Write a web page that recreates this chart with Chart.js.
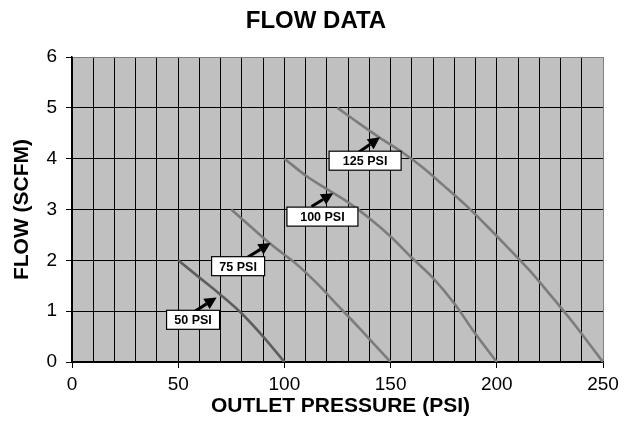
<!DOCTYPE html>
<html>
<head>
<meta charset="utf-8">
<script src="https://cdn.jsdelivr.net/npm/chart.js@4.4.1/dist/chart.umd.min.js"></script>
<style>
  html, body { margin: 0; padding: 0; background: #fff; }
  #wrap { width: 629px; height: 440px; }
</style>
</head>
<body>
<div id="wrap"><canvas id="myChart" width="629" height="440"></canvas></div>
<script>
// curve data (outlet pressure psi -> flow scfm)
const psi50X = [50, 60, 70, 80, 90, 100];
const psi50Y = [2, 1.66, 1.32, 0.95, 0.5, 0];
const psi75X = [75, 85, 95, 105, 115, 125, 135, 142, 150];
const psi75Y = [3, 2.63, 2.27, 1.95, 1.56, 1.12, 0.68, 0.36, 0];
const psi100X = [100, 110, 120, 130, 140, 150, 160, 170, 180, 190, 200];
const psi100Y = [4, 3.67, 3.4, 3.14, 2.83, 2.47, 2.05, 1.65, 1.15, 0.55, 0];
const psi125X = [125, 135, 145, 155, 165, 175, 185, 195, 205, 215, 225, 235, 250];
const psi125Y = [5, 4.7, 4.41, 4.14, 3.83, 3.47, 3.1, 2.69, 2.26, 1.82, 1.33, 0.82, 0];

const seriesNames = ['50 PSI', '75 PSI', '100 PSI', '125 PSI'];
const xTickLabels = [0, 50, 100, 150, 200, 250];
const yTickLabels = [0, 1, 2, 3, 4, 5, 6];

// callout labels: box centre and arrow (from -> tip) in data units
const calloutX = [57, 78.2, 117.9, 138];
const calloutY = [0.83, 1.885, 2.86, 3.96];
const arrowFromX = [57.9, 82.7, 112.8, 134.8];
const arrowFromY = [1.0, 2.06, 3.06, 4.12];
const arrowTipX = [68.1, 93.5, 123, 145];
const arrowTipY = [1.27, 2.34, 3.32, 4.42];

const FONT = '"Liberation Sans", Arial, Helvetica, sans-serif';
const lineColors = ['#5e5e5e', '#7c7c7c', '#7c7c7c', '#7c7c7c'];
const boxW = [53, 53, 71, 72];

function pts(xs, ys) { return xs.map((x, i) => ({ x: x, y: ys[i] })); }

var allX = [psi50X, psi75X, psi100X, psi125X];
var allY = [psi50Y, psi75Y, psi100Y, psi125Y];
var datasets = seriesNames.map((name, i) => ({
  label: name,
  data: pts(allX[i], allY[i]),
  borderColor: lineColors[i],
  borderWidth: 2.6,
  pointRadius: 0,
  fill: false,
  cubicInterpolationMode: 'monotone'
}));

// grey plot background
var plotBg = {
  id: 'plotBg',
  beforeDraw(chart) {
    var a = chart.chartArea, c = chart.ctx;
    c.save();
    c.fillStyle = '#c0c0c0';
    c.fillRect(a.left, a.top, a.right - a.left, a.bottom - a.top);
    c.restore();
  }
};

// titles and callouts
var extras = {
  id: 'extras',
  afterDatasetsDraw(chart) {
    var c = chart.ctx, xs = chart.scales.x, ys = chart.scales.y;
    c.save();
    for (var i = 0; i < seriesNames.length; i++) {
      var fx = xs.getPixelForValue(arrowFromX[i]), fy = ys.getPixelForValue(arrowFromY[i]);
      var tx = xs.getPixelForValue(arrowTipX[i]), ty = ys.getPixelForValue(arrowTipY[i]);
      var ang = Math.atan2(ty - fy, tx - fx);
      var hl = 12, hw = 6;
      var bx = tx - hl * Math.cos(ang), by = ty - hl * Math.sin(ang);
      c.strokeStyle = '#000';
      c.lineWidth = 3;
      c.beginPath(); c.moveTo(fx, fy); c.lineTo(bx, by); c.stroke();
      c.fillStyle = '#000';
      c.beginPath();
      c.moveTo(tx, ty);
      c.lineTo(bx + hw * Math.sin(ang), by - hw * Math.cos(ang));
      c.lineTo(bx - hw * Math.sin(ang), by + hw * Math.cos(ang));
      c.closePath(); c.fill();

      var cx = xs.getPixelForValue(calloutX[i]), cy = ys.getPixelForValue(calloutY[i]);
      var w = boxW[i], h = 19;
      c.fillStyle = '#fff';
      c.fillRect(cx - w / 2, cy - h / 2, w, h);
      c.lineWidth = 1.2;
      c.strokeStyle = '#000';
      c.strokeRect(cx - w / 2, cy - h / 2, w, h);
      c.fillStyle = '#000';
      c.font = 'bold 12.5px ' + FONT;
      c.textAlign = 'center';
      c.textBaseline = 'middle';
      c.fillText(seriesNames[i], cx, cy + 1);
    }
    c.restore();
  },
  afterDraw(chart) {
    var c = chart.ctx, a = chart.chartArea;
    c.save();
    c.fillStyle = '#000';
    c.textAlign = 'center';
    c.textBaseline = 'middle';
    c.font = 'bold 24px ' + FONT;
    c.fillText('FLOW DATA', 316, 21);
    c.font = 'bold 21px ' + FONT;
    c.fillText('OUTLET PRESSURE (PSI)', (a.left + a.right) / 2 + 3, 406);
    c.translate(22, (a.top + a.bottom) / 2);
    c.rotate(-Math.PI / 2);
    c.fillText('FLOW (SCFM)', 0, 0);
    c.restore();
  }
};

var myChart = new Chart(document.getElementById('myChart').getContext('2d'), {
  type: 'line',
  data: { datasets: datasets },
  options: {
    responsive: false,
    animation: false,
    layout: { padding: { left: 0, right: 26, top: 57, bottom: 0 } },
    plugins: { legend: { display: false }, tooltip: { enabled: false } },
    scales: {
      x: {
        type: 'linear', min: 0, max: 250,
        afterFit(s) { s.height = 78; },
        ticks: {
          stepSize: 10, autoSkip: false, maxRotation: 0, padding: 5,
          color: '#000', font: { family: FONT, size: 19 },
          callback: (v) => xTickLabels.includes(v) ? String(v) : ''
        },
        grid: {
          color: (ctx) => ctx.tick && ctx.tick.value === 250 ? '#808080' : '#000',
          lineWidth: 1,
          tickLength: 6,
          tickColor: (ctx) => ctx.tick && xTickLabels.includes(ctx.tick.value) ? '#000' : 'rgba(0,0,0,0)'
        },
        border: { color: '#000', width: 1.5 }
      },
      y: {
        min: 0, max: 6,
        afterFit(s) { s.width = 72; },
        ticks: {
          stepSize: 1, padding: 9, color: '#000',
          font: { family: FONT, size: 19 },
          callback: (v) => yTickLabels.includes(v) ? String(v) : ''
        },
        grid: {
          color: (ctx) => ctx.tick && ctx.tick.value === 6 ? '#808080' : '#000',
          lineWidth: 1,
          tickLength: 6,
          tickColor: '#000'
        },
        border: { color: '#000', width: 1.5 }
      }
    }
  },
  plugins: [plotBg, extras]
});
</script>
</body>
</html>
